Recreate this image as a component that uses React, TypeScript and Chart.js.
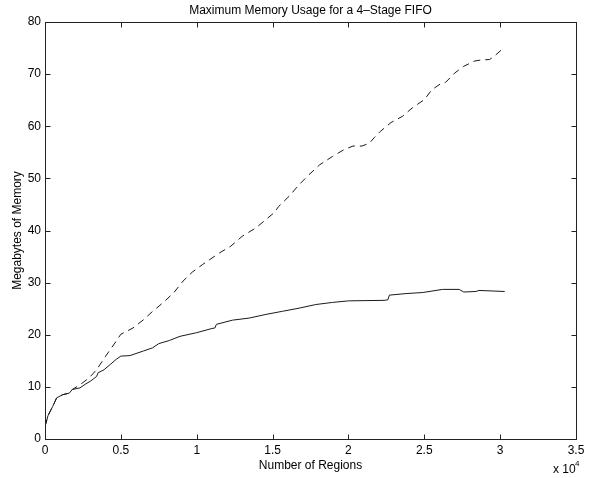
import React, { useEffect, useRef } from "react";
import { Chart, registerables } from "chart.js";

Chart.register(...registerables);

const TITLE = "Maximum Memory Usage for a 4\u2013Stage FIFO";
const X_LABEL = "Number of Regions";
const Y_LABEL = "Megabytes of Memory";

// x values in units of 10^4 regions
const solidX = [0, 0.02, 0.05, 0.077, 0.117, 0.16, 0.18, 0.23, 0.27, 0.3, 0.34, 0.35, 0.39, 0.43, 0.47, 0.5, 0.56, 0.65, 0.71, 0.75, 0.82, 0.89, 1.0, 1.1, 1.12, 1.13, 1.236, 1.346, 1.456, 1.565, 1.675, 1.785, 1.895, 2.0, 2.235, 2.26, 2.27, 2.38, 2.49, 2.62, 2.73, 2.76, 2.84, 2.86, 3.03];
const solidY = [2.4, 4.5, 6.2, 7.9, 8.5, 8.8, 9.5, 9.8, 10.6, 11.1, 12.0, 12.7, 13.3, 14.3, 15.3, 15.9, 16.0, 16.9, 17.5, 18.3, 18.9, 19.7, 20.4, 21.2, 21.3, 22.0, 22.8, 23.2, 23.9, 24.5, 25.1, 25.8, 26.2, 26.5, 26.6, 26.7, 27.6, 27.9, 28.1, 28.7, 28.7, 28.2, 28.3, 28.5, 28.3];

const dashedX = [0, 0.02, 0.05, 0.077, 0.117, 0.16, 0.18, 0.23, 0.29, 0.34, 0.4, 0.47, 0.5, 0.58, 0.65, 0.71, 0.78, 0.85, 0.91, 0.97, 1.04, 1.15, 1.225, 1.3, 1.39, 1.456, 1.51, 1.54, 1.61, 1.675, 1.74, 1.81, 1.895, 1.97, 2.03, 2.09, 2.14, 2.17, 2.21, 2.28, 2.356, 2.42, 2.5, 2.55, 2.61, 2.64, 2.7, 2.76, 2.83, 2.87, 2.93, 2.96, 3.03];
const dashedY = [2.4, 4.5, 6.2, 7.9, 8.5, 8.8, 9.5, 10.4, 11.7, 13.3, 15.9, 18.8, 20.1, 21.3, 22.9, 24.5, 26.2, 28.1, 30.3, 32.0, 33.5, 35.7, 37.0, 38.9, 40.5, 42.1, 43.4, 44.6, 46.6, 48.8, 50.7, 52.6, 54.2, 55.5, 56.2, 56.2, 56.8, 57.8, 59.0, 60.7, 61.9, 63.5, 65.1, 67.0, 68.2, 68.4, 70.2, 71.5, 72.5, 72.7, 72.8, 73.4, 75.2];

const X_MIN = 0;
const X_MAX = 3.5;
const X_STEP = 0.5;
const Y_MIN = 0;
const Y_MAX = 80;
const Y_STEP = 10;

const FONT = "'Liberation Sans', Arial, Helvetica, sans-serif";

const framePlugin = {
  id: "matlabFrame",
  afterDraw(chart: any) {
    const { ctx, chartArea, scales } = chart;
    const { left, right, top, bottom } = chartArea;
    const L = Math.round(left) + 0.5;
    const R = Math.round(right) + 0.5;
    const T = Math.round(top) + 0.5;
    const B = Math.round(bottom) + 0.5;
    ctx.save();
    ctx.strokeStyle = "#222";
    ctx.lineWidth = 1;
    ctx.setLineDash([]);
    ctx.strokeRect(L, T, R - L, B - T);
    const tl = 5;
    ctx.beginPath();
    scales.x.ticks.forEach((t: any) => {
      const px = Math.round(scales.x.getPixelForValue(t.value)) + 0.5;
      ctx.moveTo(px, B);
      ctx.lineTo(px, B - tl);
      ctx.moveTo(px, T);
      ctx.lineTo(px, T + tl);
    });
    scales.y.ticks.forEach((t: any) => {
      const py = Math.round(scales.y.getPixelForValue(t.value)) + 0.5;
      ctx.moveTo(L, py);
      ctx.lineTo(L + tl, py);
      ctx.moveTo(R, py);
      ctx.lineTo(R - tl, py);
    });
    ctx.stroke();

    ctx.fillStyle = "#000";
    ctx.font = `12px ${FONT}`;
    ctx.textAlign = "center";
    ctx.textBaseline = "middle";
    const cx = (left + right) / 2;
    ctx.fillText(TITLE, cx, 11);
    ctx.fillText(X_LABEL, cx, 466);

    ctx.save();
    ctx.translate(18, (top + bottom) / 2);
    ctx.rotate(-Math.PI / 2);
    ctx.fillText(Y_LABEL, 0, 0);
    ctx.restore();

    ctx.textAlign = "left";
    ctx.fillText("x 10", 553, 470);
    ctx.font = `8px ${FONT}`;
    ctx.fillText("4", 575, 464);
    ctx.restore();
  },
};

export default function App() {
  const ref = useRef<HTMLCanvasElement | null>(null);

  useEffect(() => {
    if (!ref.current) return;
    const solid = solidX.map((x, i) => ({ x, y: solidY[i] }));
    const dashed = dashedX.map((x, i) => ({ x, y: dashedY[i] }));
    const tickFont = { family: FONT, size: 12 };
    const chart = new Chart(ref.current, {
      type: "line",
      data: {
        datasets: [
          {
            data: dashed,
            borderColor: "#1a1a1a",
            borderWidth: 1,
            borderDash: [7, 5],
            pointRadius: 0,
            tension: 0,
            fill: false,
          },
          {
            data: solid,
            borderColor: "#1a1a1a",
            borderWidth: 1,
            pointRadius: 0,
            tension: 0,
            fill: false,
          },
        ],
      },
      options: {
        animation: false,
        responsive: false,
        maintainAspectRatio: false,
        layout: { padding: { top: 22, right: 15, left: 0, bottom: 0 } },
        plugins: {
          legend: { display: false },
          tooltip: { enabled: false },
          title: { display: false },
        },
        scales: {
          x: {
            type: "linear",
            min: X_MIN,
            max: X_MAX,
            ticks: {
              stepSize: X_STEP,
              maxRotation: 0,
              color: "#000",
              font: tickFont,
              padding: 4,
              callback: (v: any) => String(Number(v)),
            },
            grid: { display: false, drawTicks: false },
            border: { display: false },
            afterFit: (s: any) => {
              s.height = 39;
            },
          },
          y: {
            type: "linear",
            min: Y_MIN,
            max: Y_MAX,
            ticks: {
              stepSize: Y_STEP,
              color: "#000",
              font: tickFont,
              padding: 4,
            },
            grid: { display: false, drawTicks: false },
            border: { display: false },
            afterFit: (s: any) => {
              s.width = 45;
            },
          },
        },
      },
      plugins: [framePlugin],
    });
    return () => chart.destroy();
  }, []);

  return (
    <div style={{ position: "fixed", left: 0, top: 0, width: 591, height: 478, background: "#fff" }}>
      <canvas ref={ref} width={591} height={478} style={{ width: 591, height: 478, display: "block" }} />
    </div>
  );
}
